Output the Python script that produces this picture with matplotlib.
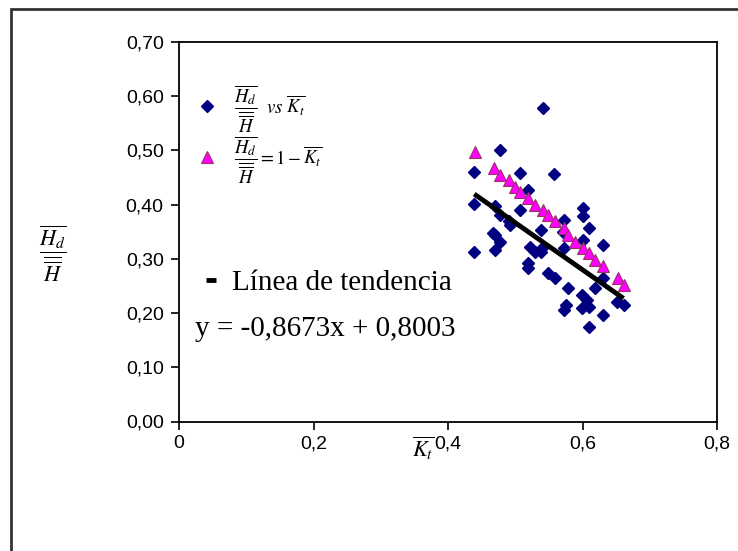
#!/usr/bin/env python3
"""
Hd/H vs Kt scatter with 1-Kt reference points and linear trend line.
Writes out.png (738x551).
"""

import matplotlib
matplotlib.use('Agg')
import matplotlib.pyplot as plt
from matplotlib.patches import Rectangle
import numpy as np

# --- data ---
kt_obs = [0.541, 0.477, 0.439, 0.558, 0.507, 0.439, 0.439, 0.519, 0.507, 0.477,
          0.490, 0.470, 0.467, 0.539, 0.571, 0.470, 0.477, 0.470, 0.522, 0.529,
          0.539, 0.542, 0.519, 0.519, 0.549, 0.559, 0.572, 0.600, 0.600, 0.609,
          0.601, 0.630, 0.572, 0.578, 0.619, 0.599, 0.606, 0.599, 0.609, 0.576,
          0.572, 0.630, 0.610, 0.651, 0.661, 0.631, 0.492]
hd_obs = [0.578, 0.501, 0.461, 0.457, 0.458, 0.402, 0.312, 0.427, 0.391, 0.380,
          0.369, 0.397, 0.347, 0.353, 0.350, 0.344, 0.332, 0.316, 0.322, 0.312,
          0.312, 0.322, 0.292, 0.283, 0.273, 0.265, 0.372, 0.393, 0.379, 0.357,
          0.335, 0.326, 0.320, 0.246, 0.246, 0.233, 0.224, 0.209, 0.212, 0.215,
          0.206, 0.197, 0.174, 0.221, 0.215, 0.264, 0.363]

kt_ref = [0.440, 0.468, 0.477, 0.490, 0.500, 0.507, 0.519, 0.529, 0.542, 0.549,
          0.559, 0.572, 0.579, 0.589, 0.601, 0.609, 0.619, 0.630, 0.653, 0.661]
hd_ref = [0.498, 0.467, 0.455, 0.446, 0.433, 0.424, 0.412, 0.399, 0.390, 0.381,
          0.369, 0.356, 0.344, 0.332, 0.320, 0.310, 0.298, 0.286, 0.264, 0.252]

trend_coef = [-0.8673, 0.8003]   # y = -0,8673x + 0,8003

x_ticks = [0, 0.2, 0.4, 0.6, 0.8]
x_labels = ["0", "0,2", "0,4", "0,6", "0,8"]
y_ticks = [0.0, 0.1, 0.2, 0.3, 0.4, 0.5, 0.6, 0.7]
y_labels = ["0,00", "0,10", "0,20", "0,30", "0,40", "0,50", "0,60", "0,70"]

NAVY = "#000080"
MAGENTA = "#FF00FF"
PURPLE_EDGE = "#993366"
SERIF = "Liberation Serif"
SANS = "Liberation Sans"

plt.rcParams['mathtext.fontset'] = 'stix'

HD_H = r"\dfrac{\overline{H_d}}{\overline{\overline{H}}}"
KT = r"\overline{K_t}"


def main():
    fig = plt.figure(figsize=(7.38, 5.51), dpi=100)
    ax = fig.add_axes([179 / 738, 1 - 421.5 / 551, 538 / 738, 379.5 / 551])

    # outer chart frame (only left/top edges fall inside the image)
    fig.patches.append(Rectangle((11 / 738, -0.1), 1.2, 1 - 9 / 551 + 0.1,
                                 transform=fig.transFigure, fill=False,
                                 edgecolor="#333333", linewidth=2))

    h_obs, = ax.plot(kt_obs, hd_obs, linestyle='none', marker='D', ms=5.8,
                     color=NAVY, markeredgecolor=NAVY)
    h_ref, = ax.plot(kt_ref, hd_ref, linestyle='none', marker='^', ms=9,
                     color=MAGENTA, markeredgecolor=PURPLE_EDGE, markeredgewidth=0.8)

    xr = np.array([min(kt_obs), max(kt_obs)])
    h_tr, = ax.plot(xr, np.polyval(trend_coef, xr), color='black', lw=3.5,
                    solid_capstyle='butt')

    ax.set_xlim(0, 0.8)
    ax.set_ylim(0, 0.7)
    ax.set_xticks(x_ticks)
    ax.set_xticklabels(x_labels, family=SANS, fontsize=14)
    ax.set_yticks(y_ticks)
    ax.set_yticklabels(y_labels, family=SANS, fontsize=14)
    ax.tick_params(direction='out', length=6, width=1.2, pad=5, colors='black')
    ax.tick_params(axis='x', pad=4)
    for s in ax.spines.values():
        s.set_color('black'); s.set_linewidth(1.3)

    ax.set_ylabel("$" + HD_H + "$", rotation=0, fontsize=16, va='center', ha='center')
    ax.yaxis.set_label_coords(-0.236, 0.444)
    ax.set_xlabel("$" + KT + "$", fontsize=16, va='center', ha='center')
    ax.xaxis.set_label_coords(0.4535, -0.07)

    leg1 = ax.legend([h_obs, h_ref],
                     ["$" + HD_H + r"\ \ \mathit{vs}\ " + KT + "$",
                      "$" + HD_H + " = 1 - " + KT + "$"],
                     loc='upper left', bbox_to_anchor=(0.02, 0.915),
                     frameon=False, fontsize=13.5, borderpad=0, handlelength=0.85,
                     handletextpad=1.0, labelspacing=0.0)
    ax.add_artist(leg1)

    ax.legend([h_tr], ["Línea de tendencia"], loc='center left',
              bbox_to_anchor=(0.024, 0.366), frameon=False,
              prop={'family': SERIF, 'size': 21}, borderpad=0,
              handlelength=0.32, handletextpad=0.55)

    ax.text(0.030, 0.244, "y = -0,8673x + 0,8003", transform=ax.transAxes,
            family=SERIF, fontsize=21, va='center', ha='left')

    fig.savefig("out.png", dpi=100, facecolor='white')
    plt.close(fig)


if __name__ == "__main__":
    main()
